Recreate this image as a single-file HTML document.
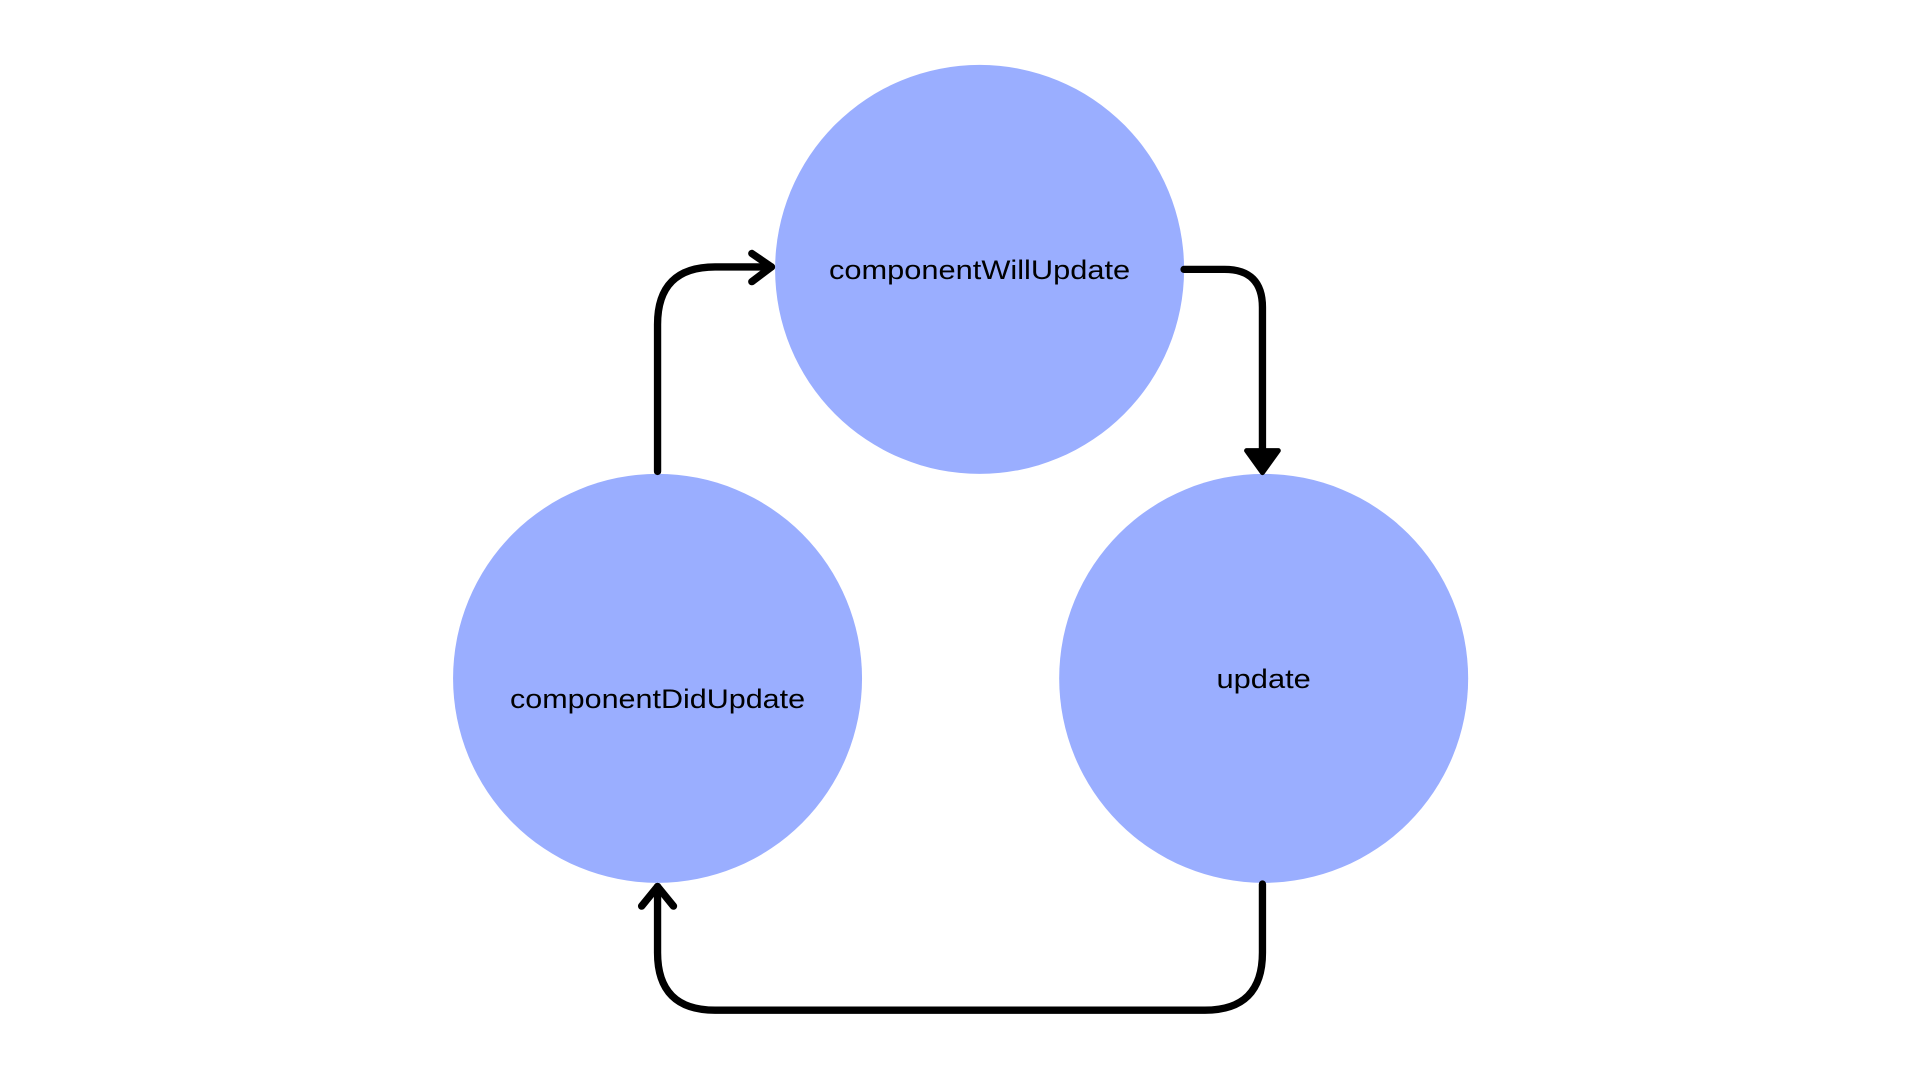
<!DOCTYPE html>
<html><head><meta charset="utf-8"><style>html,body{margin:0;padding:0;background:#fff;}svg{display:block}</style></head>
<body>
<svg width="1920" height="1080" viewBox="0 0 1568 882" xmlns="http://www.w3.org/2000/svg">
<rect width="1568" height="882" fill="#fff"/>
<circle cx="800" cy="220" r="167" fill="#9aaeff"/>
<circle cx="537" cy="554" r="167" fill="#9aaeff"/>
<circle cx="1032" cy="554" r="167" fill="#9aaeff"/>
<g fill="none" stroke="#000" stroke-width="6" stroke-linecap="round" stroke-linejoin="round">
<path d="M537 385 V265 Q537 218 584 218 H630"/>
<path d="M614 207 L630 218 L614 230"/>
<path d="M967 220 H1000 Q1031 220 1031 251 V372"/>
<path d="M1031 722 V778 Q1031 825 984 825 H584 Q537 825 537 778 V724"/>
<path d="M524 740 L537 724 L550 740"/>
</g>
<path d="M1018 368 L1044 368 L1031 386 Z" fill="#000" stroke="#000" stroke-width="4" stroke-linejoin="round"/>
<g font-family="Liberation Sans, sans-serif" font-size="22" fill="#000" text-anchor="middle">
<text x="800" y="228" textLength="246" lengthAdjust="spacingAndGlyphs">componentWillUpdate</text>
<text x="537" y="578" textLength="241" lengthAdjust="spacingAndGlyphs">componentDidUpdate</text>
<text x="1032" y="562" textLength="77" lengthAdjust="spacingAndGlyphs">update</text>
</g>
</svg>
</body></html>
